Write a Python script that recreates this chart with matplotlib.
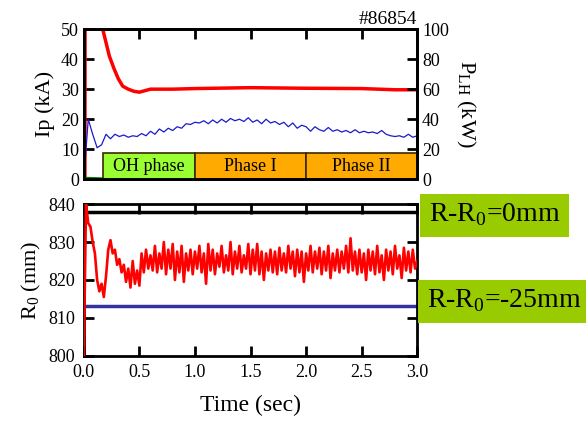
import numpy as np
import matplotlib.pyplot as plt
from matplotlib.patches import Rectangle

plt.rcParams['font.family'] = ['Liberation Serif', 'DejaVu Serif']
plt.rcParams['mathtext.fontset'] = 'custom'
plt.rcParams['mathtext.rm'] = 'Liberation Serif'

# plasma current Ip (kA)
ip_time = [0, 0.01, 0.012, 0.17, 0.20, 0.23, 0.27, 0.31, 0.35, 0.40, 0.45,
           0.50, 0.55, 0.60, 0.8, 1.0, 1.5, 2.0, 2.5, 2.8, 3.0]
ip_vals = [0, 0, 70, 50, 45.5, 41, 37, 33.5, 31, 30, 29.3,
           29, 29.5, 30, 30, 30.2, 30.5, 30.3, 30.2, 29.8, 29.8]

# LH power (kW), sampled every 0.04 s
plh_vals = [0, 40, 30, 21, 23, 30, 27, 30, 28.5, 29.5, 28, 29, 28.5, 30.5, 29, 32,
            30, 33.5, 31.5, 34, 32.5, 35, 34, 37, 36.5, 38, 37.5, 39, 37, 39.5,
            37.5, 40, 38, 40.5, 39, 40, 38.5, 41, 38, 39.5, 37, 40, 37.5, 38.5,
            36.5, 38, 35, 37.5, 34, 36, 35, 32, 35, 33, 32, 34.5, 32, 33, 31.5,
            32.5, 31, 33, 31, 32, 31, 31.5, 30.5, 32.5, 30, 29, 28.5, 29, 28,
            30, 28, 29]

# small green trace near zero
green_time = [0, 0.17]
green_vals = [0.6, 0.4]

# phases
phase_names = ['OH phase', 'Phase I', 'Phase II']
phase_start = [0.17, 1.0, 2.0]
phase_end = [1.0, 2.0, 3.0]
phase_colors = ['#99ff33', '#ffaa00', '#ffaa00']

# plasma position R0 (mm), sampled every 0.02 s
r0_vals = [800, 840, 835, 834, 830, 827, 820, 817, 819, 815.5, 821, 828, 830.5,
           827, 828, 824, 825.5, 822, 824, 819.5, 823, 818, 825, 819, 822.5, 818.5,
           827, 822, 828, 823, 826.5, 822.5, 829, 822, 827, 823,
           830, 821.5, 828, 823, 829.5, 820, 827.5, 822, 829, 819.5,
           827, 822.5, 828, 821.5, 827.5, 823, 829, 822, 827, 819,
           829.5, 822.5, 828, 821.5, 827, 823.5, 829, 822, 826.5, 822.5,
           830, 821.5, 827.5, 823, 829, 822, 826.5, 823, 829.5, 821.5,
           828, 822.5, 829.5, 821.5, 827.5, 820, 827, 822.5, 828, 822,
           827.5, 821.5, 828.5, 822.5, 827, 822, 829, 823, 827.5, 821,
           828, 822, 827.5, 819.5, 827, 822.5, 829, 822, 827.5, 823,
           828.5, 821.5, 827.5, 822.5, 829, 820.5, 827, 822.5, 828, 822,
           827.5, 823, 829, 822, 831, 822.5, 827.5, 821.5, 828, 822,
           827, 820, 828, 822.5, 827.5, 821.5, 829, 822, 826.5, 820,
           828, 822.5, 827.5, 821.5, 829, 823, 826.5, 820.5, 828.5, 822.5,
           827.5, 822, 828, 823, 825]
r_ref_zero = 838
r_ref_minus25 = 813

plh_time = np.linspace(0, 3.0, len(plh_vals))
r0_time = np.linspace(0, 3.0, len(r0_vals))

fig = plt.figure(figsize=(5.86, 4.21), dpi=100)
ax1 = fig.add_axes([0.143, 0.574, 0.569, 0.357])
ax2 = fig.add_axes([0.143, 0.155, 0.569, 0.360])

tick_kw = dict(direction='in', length=7, width=2, labelsize=13)

# top panel
ax1.plot(ip_time, ip_vals, color='red', lw=2.5, zorder=3)
ax1.plot(green_time, green_vals, color='green', lw=1.2, zorder=3)
ax1r = ax1.twinx()
ax1r.plot(plh_time, plh_vals, color='#1a1acc', lw=0.9)
ax1.set_xlim(0, 3.0)
ax1.set_ylim(0, 50)
ax1r.set_ylim(0, 100)
ax1.set_yticks([0, 10, 20, 30, 40, 50])
ax1r.set_yticks([0, 20, 40, 60, 80, 100])
ax1.set_xticks([0.5, 1.0, 1.5, 2.0, 2.5])
ax1.tick_params(axis='x', top=True, bottom=False, labelbottom=False, **tick_kw)
ax1.tick_params(axis='y', **tick_kw)
ax1r.tick_params(axis='y', **tick_kw)
ax1.set_ylabel('Ip (kA)', fontsize=16, labelpad=4)
ax1r.set_ylabel('P$_{\\mathrm{LH}}$ (kW)', fontsize=16, rotation=270, labelpad=20)

for name, s, e, c in zip(phase_names, phase_start, phase_end, phase_colors):
    ax1.add_patch(Rectangle((s, 0), e - s, 8.8, facecolor=c, edgecolor='#3a2a00',
                            lw=1.2, zorder=4))
    ax1.text((s + e) / 2, 4.3, name, ha='center', va='center', fontsize=13, zorder=5)

ax1.text(1.0, 1.01, '#86854', transform=ax1.transAxes, ha='right', va='bottom',
         fontsize=14)

# bottom panel
ax2.plot(r0_time, r0_vals, color='red', lw=1.9, zorder=3)
ax2.axhline(r_ref_zero, color='black', lw=2.5)
ax2.axhline(r_ref_minus25, color='#333399', lw=2.5)
ax2.set_xlim(0, 3.0)
ax2.set_ylim(800, 840)
ax2.set_yticks([800, 810, 820, 830, 840])
ax2.set_xticks([0.0, 0.5, 1.0, 1.5, 2.0, 2.5, 3.0])
ax2.xaxis.set_major_formatter(plt.FormatStrFormatter('%.1f'))
ax2.tick_params(axis='both', top=True, right=True, pad=6, **tick_kw)
ax2.set_ylabel('$\\mathregular{R_0}$ (mm)', fontsize=16, labelpad=4)
ax2.set_xlabel('Time (sec)', fontsize=17, labelpad=10)

for a in (ax1, ax1r, ax2):
    for sp in a.spines.values():
        sp.set_linewidth(2)

# labels of the reference lines
boxes = [(0.7167, 0.4371, 0.2543, 'R-R$_{\\mathrm{0}}$=0mm'),
         (0.7133, 0.2328, 0.2867, 'R-R$_{\\mathrm{0}}$=-25mm')]
for x0, y0, w, label in boxes:
    fig.patches.append(Rectangle((x0, y0), w, 0.1021, transform=fig.transFigure,
                                 facecolor='#99cc00', edgecolor='none'))
    fig.text(x0 + 0.016, y0 + 0.052, label, ha='left', va='center', fontsize=20)

fig.savefig('out.png', dpi=100)
